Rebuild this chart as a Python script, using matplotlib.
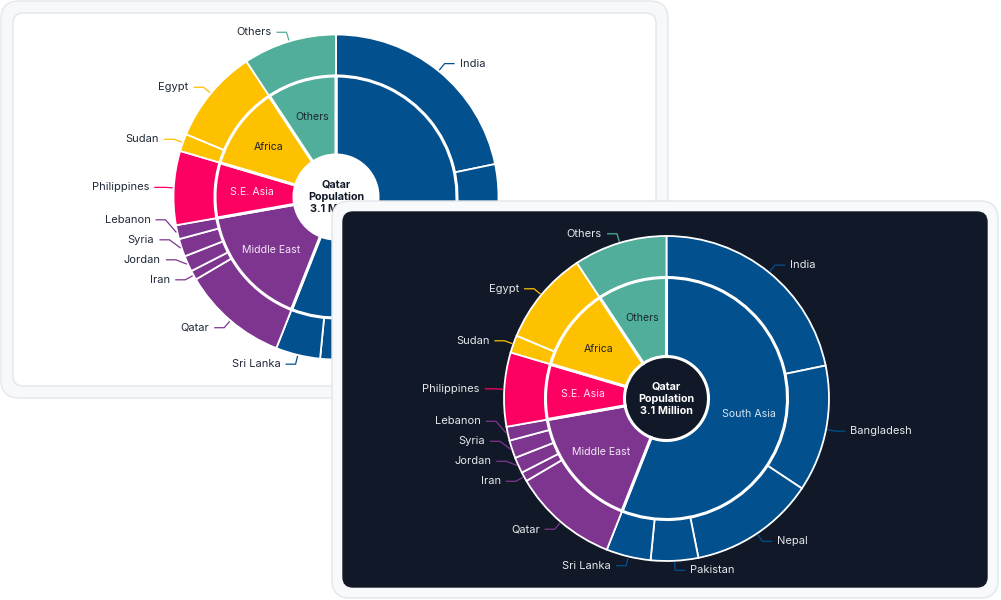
import numpy as np
import matplotlib.pyplot as plt
from matplotlib.patches import FancyBboxPatch

plt.rcParams['font.family'] = ['Inter', 'DejaVu Sans']

W, H = 1001, 600

# population by country, thousands
countries = ['India', 'Bangladesh', 'Nepal', 'Pakistan', 'Sri Lanka',
             'Qatar', 'Iran', 'Jordan', 'Syria', 'Lebanon',
             'Philippines', 'Sudan', 'Egypt', 'Others']
population = [674, 390, 388, 146, 137,
              327, 29, 49, 55, 43,
              228, 54, 291, 288]
country_region = [0, 0, 0, 0, 0, 1, 1, 1, 1, 1, 2, 3, 3, 4]

regions = ['South Asia', 'Middle East', 'S.E. Asia', 'Africa', 'Others']
region_colors = ['#03508f', '#7e3590', '#fe0062', '#fdc100', '#51ae9b']
region_text_colors = ['#d3e4f4', '#f4e6f6', '#ffe3ee', '#1d2230', '#1a2a2c']
center_text = 'Qatar\nPopulation\n3.1 Million'

region_totals = [sum(p for p, r in zip(population, country_region) if r == i)
                 for i in range(len(regions))]

# dark card box in screen pixels (x0, y0, x1, y1), used to hide covered labels
front_box = (332, 201, 998, 598)


def card(ax, x, y, w, h, fc, ec, rad, z):
    # x, y given as screen pixels from the top-left corner
    p = FancyBboxPatch((x, H - y - h), w, h, boxstyle='round,pad=0,rounding_size=%d' % rad,
                       fc=fc, ec=ec, lw=1, zorder=z)
    ax.add_patch(p)


def spread(items, gap, upward):
    # items: list of [theta, y, i]; push labels apart so they don't overlap
    prev = None
    for it in items:
        if prev is not None:
            if upward:
                it[1] = max(it[1], prev + gap)
            else:
                it[1] = min(it[1], prev - gap)
        prev = it[1]


def covered(x, y, box):
    if box is None:
        return False
    return box[0] - 4 <= x <= box[2] and box[1] - 4 <= H - y <= box[3]


def sunburst(ax, cx, cy, dark, z, hide=None):
    cy = H - cy
    R_in, R_out, R_hole, R_elb = 121, 162.5, 42, 172
    outer_cols = [region_colors[r] for r in country_region]
    outer, _ = ax.pie(population, radius=R_out, center=(cx, cy), startangle=90,
                      counterclock=False, colors=outer_cols,
                      wedgeprops=dict(width=R_out - R_in, edgecolor='white', linewidth=1.3))
    inner, _ = ax.pie(region_totals, radius=R_in, center=(cx, cy), startangle=90,
                      counterclock=False, colors=region_colors,
                      wedgeprops=dict(width=R_in - R_hole, edgecolor='white', linewidth=2.2))
    for w in outer + inner:
        w.set_zorder(z)

    txt_col = '#e6e8ec' if dark else '#1f2937'

    # region labels inside the inner ring
    tot = sum(region_totals)
    cum = np.cumsum(region_totals)
    for i, name in enumerate(regions):
        th = np.radians((cum[i] - region_totals[i] / 2) / tot * 360)
        r = 84
        tx, ty = cx + r * np.sin(th), cy + r * np.cos(th)
        if covered(tx - 25, ty, hide):
            continue
        ax.text(tx, ty, name, ha='center', va='center',
                fontsize=7.6, color=region_text_colors[i], zorder=z + 1)

    # outer labels with leader lines
    cum = np.cumsum(population)
    right, left = [], []
    for i, name in enumerate(countries):
        th = (cum[i] - population[i] / 2) / tot * 360
        item = [th, cy + R_elb * np.cos(np.radians(th)), i]
        (right if th < 180 else left).append(item)
    spread(right, 20, upward=False)
    spread(left, 20, upward=True)
    for th, ly, i in right + left:
        t = np.radians(th)
        side = 1 if th < 180 else -1
        sx, sy = cx + (R_out + 1) * np.sin(t), cy + (R_out + 1) * np.cos(t)
        dy = ly - cy
        ex = cx + side * np.sqrt(max(R_elb ** 2 - dy ** 2, 0))
        lx = ex + side * 10
        if covered(sx, sy, hide):
            continue
        col = region_colors[country_region[i]]
        ax.plot([sx, ex, lx], [sy, ly, ly], color=col, lw=0.9, zorder=z + 1,
                solid_capstyle='butt')
        ax.text(lx + side * 5, ly, countries[i], ha='left' if side > 0 else 'right',
                va='center', fontsize=8, color=txt_col, zorder=z + 1)

    ax.text(cx, cy, center_text, ha='center', va='center', fontsize=7.8,
            fontweight='bold', linespacing=1.3,
            color='white' if dark else '#111827', zorder=z + 1)


fig = plt.figure(figsize=(W / 100, H / 100), dpi=100)
fig.patch.set_facecolor('white')
ax = fig.add_axes([0, 0, 1, 1])

# light card (behind)
card(ax, 1, 1, 667, 397, '#f7f8fa', '#e4e7eb', 18, 1)
card(ax, 13, 13, 643, 373, 'white', '#e3e6ea', 10, 2)
sunburst(ax, 336, 197, False, 3, hide=front_box)

# dark card (front)
card(ax, 332, 201, 666, 397, '#f8f9fb', '#e2e5e9', 18, 10)
card(ax, 343, 212, 644, 375, '#111827', '#111827', 10, 11)
sunburst(ax, 666.5, 398.5, True, 12)

ax.set_xlim(0, W)
ax.set_ylim(0, H)
ax.set_aspect('auto')
ax.axis('off')

fig.savefig('out.png', dpi=100)
